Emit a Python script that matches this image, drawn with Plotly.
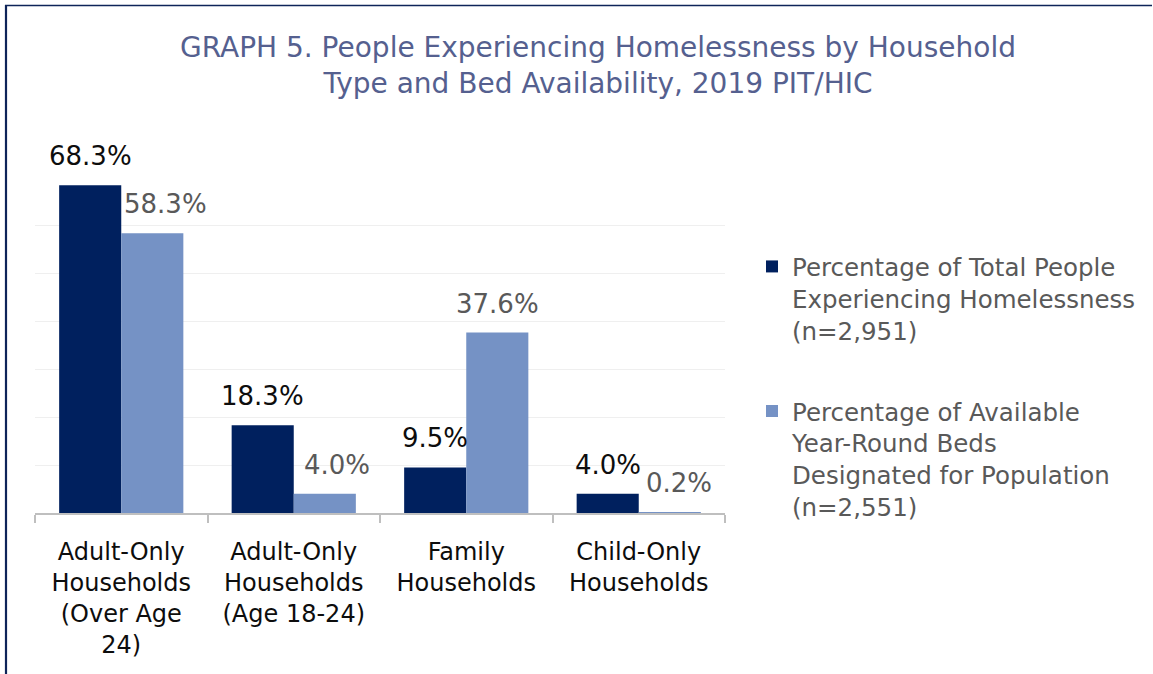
import plotly.graph_objects as go

categories = ["Adult-Only<br>Households<br>(Over Age<br>24)",
              "Adult-Only<br>Households<br>(Age 18-24)",
              "Family<br>Households",
              "Child-Only<br>Households"]
people_pct = [68.3, 18.3, 9.5, 4.0]
beds_pct = [58.3, 4.0, 37.6, 0.2]
series_names = ["Percentage of Total People<br>Experiencing Homelessness<br>(n=2,951)",
                "Percentage of Available<br>Year-Round Beds<br>Designated for Population<br>(n=2,551)"]
title_text = "GRAPH 5. People Experiencing Homelessness by Household<br>Type and Bed Availability, 2019 PIT/HIC"

# style
DARK = "#00205E"
LIGHT = "#7592C5"
FONT = "DejaVu Sans"
bed_label_shift = [13, 12, 0, 9]  # pixel nudges of light-series labels (style)

W, H = 1153, 674
L, R, T, B = 35, 428, 177, 161
pw, ph = W - L - R, H - T - B

fig = go.Figure()
fig.add_trace(go.Bar(x=categories, y=people_pct, name=series_names[0],
                     marker=dict(color=DARK, line=dict(width=0)),
                     legendgroup="a"))
fig.add_trace(go.Bar(x=categories, y=beds_pct, name=series_names[1],
                     marker=dict(color=LIGHT, line=dict(width=0)),
                     legendgroup="b"))

off = pw / 4 * (1 - 0.28) / 4  # half bar width in px
for i, c in enumerate(categories):
    fig.add_annotation(x=c, y=people_pct[i], text=f"{people_pct[i]:.1f}%",
                       showarrow=False, xshift=-off, yshift=12, yanchor="bottom",
                       font=dict(family=FONT, size=26, color="#0D0D0D"))
    fig.add_annotation(x=c, y=beds_pct[i], text=f"{beds_pct[i]:.1f}%",
                       showarrow=False, xshift=off + bed_label_shift[i], yshift=12,
                       yanchor="bottom",
                       font=dict(family=FONT, size=26, color="#595959"))

def px_to_paper_x(p):
    return (p - L) / pw

def px_to_paper_y(p):
    return (H - B - p) / ph

# frame lines (left and top)
fig.add_shape(type="line", xref="paper", yref="paper",
              x0=px_to_paper_x(6), x1=px_to_paper_x(6),
              y0=px_to_paper_y(5), y1=px_to_paper_y(H + 2),
              line=dict(color="#0E2459", width=2.2))
fig.add_shape(type="line", xref="paper", yref="paper",
              x0=px_to_paper_x(5), x1=px_to_paper_x(1152),
              y0=px_to_paper_y(5.5), y1=px_to_paper_y(5.5),
              line=dict(color="#0E2459", width=1.5))

fig.update_layout(
    width=W, height=H,
    margin=dict(l=L, r=R, t=T, b=B, pad=0),
    paper_bgcolor="white", plot_bgcolor="white",
    barmode="group", bargap=0.28, bargroupgap=0,
    font=dict(family=FONT, color="#000000"),
    title=dict(text=title_text, x=598 / W, xanchor="center", xref="container",
               y=1 - 57 / H, yanchor="top", yref="container",
               font=dict(family=FONT, size=28, color="#55608F")),
    showlegend=True,
    legend=dict(x=px_to_paper_x(752), xanchor="left",
                y=px_to_paper_y(244), yanchor="top",
                valign="top", tracegroupgap=46,
                font=dict(family=FONT, size=24.5, color="#595959"),
                bgcolor="rgba(0,0,0,0)", itemclick=False),
    xaxis=dict(showline=True, linecolor="#BFBFBF", linewidth=2,
               ticks="outside", tickson="boundaries", ticklen=8,
               tickcolor="#BFBFBF", tickwidth=2,
               tickfont=dict(family=FONT, size=24, color="#0D0D0D"),
               showgrid=False, ticklabelstandoff=16),
    yaxis=dict(range=[0, 70], dtick=10, showgrid=True, gridcolor="#EFEFEF",
               gridwidth=1.2, zeroline=False, showticklabels=False,
               showline=False, ticks=""),
)

fig.write_html("out.html")
